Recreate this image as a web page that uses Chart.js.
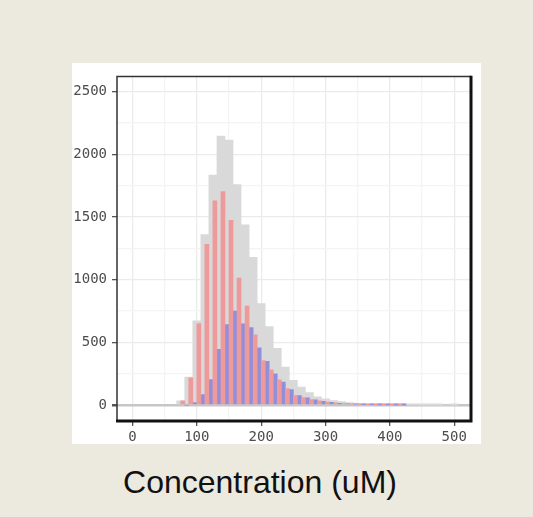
<!DOCTYPE html>
<html>
<head>
<meta charset="utf-8">
<script src="https://cdn.jsdelivr.net/npm/chart.js@4"></script>
<style>
  body { margin: 0; background: #ece9df; width: 533px; height: 517px; overflow: hidden; }
  #panel { position: absolute; left: 72px; top: 63px; width: 409px; height: 381px; background: #fff; }
  #xlabel { position: absolute; left: 0; top: 466px; width: 520px; text-align: center;
            font-family: 'Liberation Sans', Arial, sans-serif; font-size: 32px; line-height: 32px; color: #111; }
</style>
</head>
<body>
<div id="panel"><canvas id="hist" width="409" height="381"></canvas></div>
<div id="xlabel">Concentration (uM)</div>
<script>
const binWidth = 12.5;

// total counts (gray), bins centred every 12.5
const grayBins = [75, 87.5, 100, 112.5, 125, 137.5, 150, 162.5, 175, 187.5, 200, 212.5, 225, 237.5,
  250, 262.5, 275, 287.5, 300, 312.5, 325, 337.5, 350, 362.5, 375, 387.5, 400, 412.5, 425, 437.5,
  450, 462.5, 475, 487.5, 500];
const grayCounts = [34, 224, 672, 1360, 1835, 2146, 2115, 1759, 1438, 1180, 811, 627, 453, 303,
  198, 145, 100, 66, 50, 37, 29, 21, 15, 10, 8, 6, 5, 3, 3, 2,
  1, 1, 1, 0, 1];

// the two groups, dodged side by side in the same bins
const groupBins = [81.25, 93.75, 106.25, 118.75, 131.25, 143.75, 156.25, 168.75, 181.25, 193.75,
  206.25, 218.75, 231.25, 243.75, 256.25, 268.75, 281.25, 293.75, 306.25, 318.75,
  331.25, 343.75, 356.25, 368.75, 381.25, 393.75, 406.25, 418.75];
const redCounts = [34, 219, 650, 1282, 1630, 1704, 1475, 1014, 790, 561,
  355, 282, 203, 132, 77, 60, 45, 35, 25, 18,
  12, 9, 6, 4, 3, 2, 1, 1];
const blueCounts = [0, 21, 85, 205, 445, 642, 750, 648, 619, 458,
  350, 250, 184, 124, 77, 58, 42, 30, 22, 15,
  11, 8, 5, 4, 3, 2, 1, 1];

const xTicks = [0, 50, 100, 150, 200, 250, 300, 350, 400, 450, 500];
const yTicks = [0, 250, 500, 750, 1000, 1250, 1500, 1750, 2000, 2250, 2500];
const xMin = -24, xMax = 526;
const yMin = -126, yMax = 2622;

const toPoints = (xs, ys, shift) => xs.map((x, i) => ({x: x + shift, y: ys[i]}));
const tickVal = c => (c.tick ? c.tick.value : NaN);

// box around the plot, heavier on right and bottom
const frame = {
  id: 'frame',
  afterDraw(chart) {
    const {ctx, chartArea: a} = chart;
    ctx.save();
    ctx.strokeStyle = '#333';
    ctx.lineWidth = 1.5;
    ctx.beginPath();
    ctx.moveTo(a.left, a.bottom); ctx.lineTo(a.left, a.top); ctx.lineTo(a.right, a.top);
    ctx.stroke();
    ctx.strokeStyle = '#111';
    ctx.lineWidth = 3;
    ctx.beginPath();
    ctx.moveTo(a.left - 1, a.bottom); ctx.lineTo(a.right, a.bottom); ctx.lineTo(a.right, a.top - 0.75);
    ctx.stroke();
    ctx.restore();
  }
};

const tickFont = {family: "'DejaVu Sans Mono', monospace", size: 14};
const barOpts = {barPercentage: 1, categoryPercentage: 1, grouped: false, borderWidth: 0};

new Chart(document.getElementById('hist'), {
  type: 'bar',
  data: {
    datasets: [
      Object.assign({
        label: 'total',
        data: toPoints(grayBins, grayCounts, 0),
        xAxisID: 'x',
        backgroundColor: '#d9d9d9',
        order: 2
      }, barOpts),
      Object.assign({
        label: 'group A',
        data: toPoints(groupBins, redCounts, -binWidth / 4),
        xAxisID: 'x2',
        backgroundColor: '#ef9a9a',
        order: 1
      }, barOpts),
      Object.assign({
        label: 'group B',
        data: toPoints(groupBins, blueCounts, binWidth / 4),
        xAxisID: 'x2',
        backgroundColor: '#8f8fdc',
        order: 1
      }, barOpts)
    ]
  },
  options: {
    responsive: false,
    animation: false,
    layout: {padding: {left: 0, top: 10, right: 10, bottom: 0}},
    plugins: {legend: {display: false}, tooltip: {enabled: false}},
    scales: {
      x: {
        type: 'linear',
        offset: false,
        min: xMin,
        max: xMax,
        afterBuildTicks: s => { s.ticks = xTicks.map(v => ({value: v})); },
        afterFit: s => { s.height = 23; },
        border: {display: false},
        grid: {
          offset: false,
          color: c => tickVal(c) % 100 === 0 ? '#ebebeb' : '#f4f4f4',
          lineWidth: 1.3,
          tickLength: 5,
          tickColor: c => tickVal(c) % 100 === 0 ? '#555' : 'rgba(0,0,0,0)'
        },
        ticks: {
          font: tickFont,
          color: '#4d4d4d',
          padding: 3,
          maxRotation: 0,
          autoSkip: false,
          callback: v => v % 100 === 0 ? String(v) : ''
        }
      },
      x2: {
        type: 'linear',
        display: false,
        offset: false,
        min: xMin,
        max: xMax,
        grid: {offset: false},
        afterBuildTicks: s => { s.ticks = xTicks.map(v => ({value: v})); }
      },
      y: {
        min: yMin,
        max: yMax,
        afterBuildTicks: s => { s.ticks = yTicks.map(v => ({value: v})); },
        afterFit: s => { s.width = 45; },
        border: {display: false},
        grid: {
          color: c => tickVal(c) === 0 ? '#c6c6c6' : (tickVal(c) % 500 === 0 ? '#ebebeb' : '#f4f4f4'),
          lineWidth: c => tickVal(c) === 0 ? 2.5 : 1.3,
          tickLength: 5,
          tickColor: c => tickVal(c) % 500 === 0 ? '#555' : 'rgba(0,0,0,0)'
        },
        ticks: {
          font: tickFont,
          color: '#4d4d4d',
          padding: 5,
          autoSkip: false,
          callback: v => v % 500 === 0 ? String(v) : ''
        }
      }
    }
  },
  plugins: [frame]
});
</script>
</body>
</html>
